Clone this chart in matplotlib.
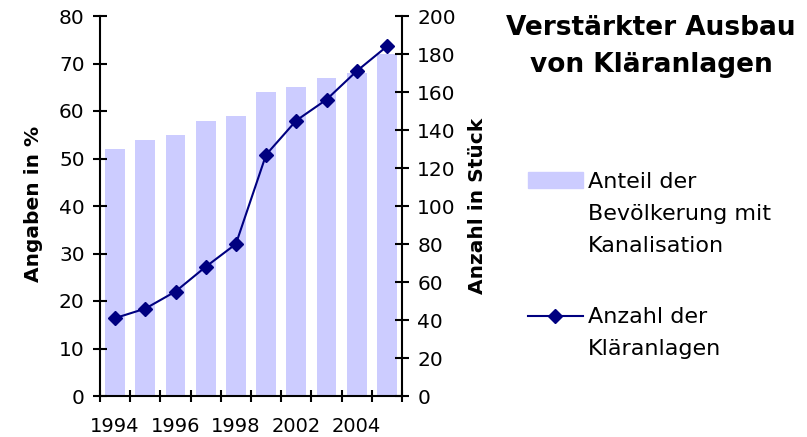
import matplotlib
matplotlib.use('Agg')
import matplotlib.pyplot as plt
from matplotlib.patches import Rectangle
from matplotlib.lines import Line2D
import numpy as np

# data
years = ['1994', '1995', '1996', '1997', '1998', '2001', '2002', '2003', '2004', '2005']
tick_labels = ['1994', '', '1996', '', '1998', '', '2002', '', '2004', '']
anteil = [52, 54, 55, 58, 59, 64, 65, 67, 68, 72]          # Angaben in %
anzahl = [41, 46, 55, 68, 80, 127, 145, 156, 171, 184]     # Anzahl in Stueck

bar_color = '#CCCCFF'
line_color = '#000080'

plt.rcParams['font.family'] = ['DejaVu Sans']

W, H = 807, 437
fig = plt.figure(figsize=(W / 100, H / 100), dpi=100)
ax = fig.add_axes([100 / W, 41 / H, 302 / W, 380 / H])
ax2 = ax.twinx()

x = np.arange(len(years))
ax.bar(x, anteil, width=0.66, color=bar_color, zorder=1)
ax2.plot(x, anzahl, color=line_color, lw=1.5, marker='D', ms=7.5, zorder=3)

ax.set_xlim(-0.5, len(years) - 0.5)
ax.set_ylim(0, 80)
ax2.set_ylim(0, 200)
ax.set_yticks(np.arange(0, 81, 10))
ax2.set_yticks(np.arange(0, 201, 20))

# category boundaries get the tick marks, labels sit in the middle
ax.set_xticks(np.arange(-0.5, len(years), 1.0))
ax.set_xticklabels([])
ax.set_xticks(x, minor=True)
ax.set_xticklabels(tick_labels, minor=True)
ax.tick_params(axis='x', which='major', direction='inout', length=9, width=1.5)
ax.tick_params(axis='x', which='minor', length=0, pad=15, labelsize=14)
ax.tick_params(axis='y', direction='inout', length=10, width=1.5, labelsize=14.5, pad=6)
ax2.tick_params(axis='y', direction='inout', length=10, width=1.5, labelsize=14.5, pad=6)

for a in (ax, ax2):
    a.spines['top'].set_visible(False)
    for s in ('left', 'right', 'bottom'):
        a.spines[s].set_linewidth(1.5)
ax.spines['right'].set_visible(False)
ax2.spines['left'].set_visible(False)
ax2.spines['bottom'].set_visible(False)

ax.set_ylabel('Angaben in %', fontsize=14.5, fontweight='bold')
ax2.set_ylabel('Anzahl in Stück', fontsize=14.5, fontweight='bold')
ax.yaxis.set_label_coords(-0.19, 0.505)
ax2.yaxis.set_label_coords(1.22, 0.5)

# title, one text per line on its baseline
for txt, yb in [('Verstärkter Ausbau', 35), ('von Kläranlagen', 72)]:
    fig.text(651 / W, 1 - yb / H, txt, ha='center', va='baseline',
             fontsize=19, fontweight='bold')

# legend drawn by hand so the handles sit on the first text line
fig.add_artist(Rectangle((528 / W, 1 - 188 / H), 55 / W, 16 / H, color=bar_color,
                         transform=fig.transFigure))
fig.add_artist(Line2D([528 / W, 583 / W], [1 - 316 / H] * 2, color=line_color, lw=1.5,
                      transform=fig.transFigure))
fig.add_artist(Line2D([555 / W], [1 - 316 / H], color=line_color, marker='D', ms=7.5,
                      transform=fig.transFigure))
legend_lines = [('Anteil der', 188), ('Bevölkerung mit', 220), ('Kanalisation', 252),
                ('Anzahl der', 323), ('Kläranlagen', 355)]
for txt, yb in legend_lines:
    fig.text(588 / W, 1 - yb / H, txt, ha='left', va='baseline', fontsize=16)

fig.savefig('out.png', dpi=100)
